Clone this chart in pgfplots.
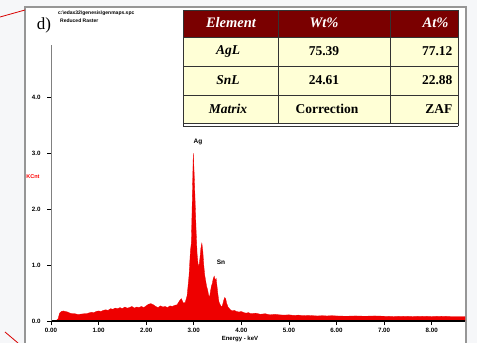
\documentclass[border=0pt]{standalone}
\usepackage{pgfplots}
\pgfplotsset{compat=1.18}
\usepackage{fontspec}
\setmainfont{Liberation Serif}
\newfontfamily\sans{Liberation Sans}
\definecolor{spec}{RGB}{238,0,0}
\definecolor{hdr}{RGB}{122,0,0}
\definecolor{cream}{RGB}{255,255,214}
\definecolor{bg}{RGB}{246,247,249}
\definecolor{frame}{RGB}{150,150,150}
\pgfplotstableread{
x y
0.10 0
0.15 0.04
0.18 0.14
0.22 0.17
0.26 0.18
0.30 0.17
0.35 0.16
0.40 0.14
0.45 0.13
0.50 0.13
0.55 0.12
0.60 0.12
0.65 0.125
0.70 0.13
0.75 0.13
0.80 0.145
0.85 0.155
0.90 0.15
0.95 0.17
1.00 0.18
1.05 0.17
1.10 0.19
1.15 0.20
1.20 0.19
1.25 0.22
1.30 0.21
1.35 0.23
1.40 0.22
1.45 0.24
1.50 0.22
1.55 0.25
1.60 0.23
1.65 0.24
1.70 0.26
1.75 0.23
1.80 0.25
1.85 0.24
1.90 0.26
1.95 0.24
2.00 0.27
2.05 0.30
2.10 0.31
2.15 0.29
2.20 0.26
2.25 0.24
2.30 0.27
2.35 0.25
2.40 0.26
2.45 0.24
2.50 0.27
2.55 0.26
2.60 0.28
2.65 0.29
2.70 0.36
2.74 0.40
2.78 0.32
2.82 0.33
2.86 0.45
2.90 0.80
2.93 1.25
2.95 1.40
2.97 2.20
2.99 3.00
3.01 2.60
3.03 2.10
3.05 1.60
3.07 1.20
3.09 1.02
3.11 0.98
3.13 1.12
3.15 1.30
3.17 1.39
3.19 1.25
3.21 1.00
3.23 0.82
3.25 0.72
3.27 0.62
3.29 0.56
3.31 0.47
3.33 0.42
3.35 0.52
3.37 0.62
3.39 0.67
3.41 0.76
3.43 0.80
3.45 0.73
3.47 0.76
3.49 0.61
3.51 0.46
3.53 0.34
3.55 0.30
3.57 0.27
3.59 0.25
3.61 0.30
3.63 0.37
3.65 0.42
3.67 0.40
3.69 0.32
3.72 0.25
3.76 0.21
3.80 0.18
3.85 0.19
3.90 0.17
3.95 0.16
4.00 0.17
4.05 0.15
4.10 0.14
4.15 0.15
4.20 0.13
4.30 0.14
4.40 0.12
4.50 0.13
4.60 0.11
4.70 0.12
4.80 0.11
4.90 0.105
5.00 0.11
5.10 0.10
5.20 0.105
5.30 0.095
5.40 0.10
5.50 0.095
5.60 0.09
5.70 0.095
5.80 0.09
5.90 0.095
6.00 0.09
6.20 0.085
6.40 0.09
6.60 0.085
6.80 0.09
7.00 0.085
7.20 0.08
7.40 0.085
7.60 0.08
7.80 0.085
8.00 0.08
8.20 0.085
8.40 0.08
8.70 0.08
}\spectrum
\begin{document}
\begin{tikzpicture}[x=1pt,y=1pt]
\useasboundingbox (0,0) rectangle (477,343);
\fill[bg] (0,0) rectangle (477,343);
\fill[white] (25,-2) rectangle (466,336);
\draw[frame, line width=1.2pt] (25,-2) -- (25,336) -- (466,336) -- (466,-2);
\draw[red!85!black, line width=0.8pt] (0,326) -- (25,333);
\draw[red!85!black, line width=0.8pt] (5,11) -- (18,0);
\begin{axis}[
  at={(51pt,22pt)}, anchor=south west,
  scale only axis, width=414pt, height=276pt,
  xmin=0, xmax=8.7, ymin=0, ymax=4.93,
  axis x line=bottom, axis y line=left,
  axis on top,
  x axis line style={-, black, line width=1.6pt},
  y axis line style={-, gray, line width=0.8pt},
  xtick={0,1,...,8}, ytick={0,1,2,3,4},
  tick align=outside, major tick length=4pt,
  tick style={black, line width=0.6pt},
  /pgf/number format/assume math mode=true,
  ticklabel style={font=\sans\bfseries\fontsize{6.2}{7}\selectfont},
  xticklabel style={/pgf/number format/.cd, fixed, fixed zerofill, precision=2},
  yticklabel style={xshift=-3pt, /pgf/number format/.cd, fixed, fixed zerofill, precision=1},
  clip=false,
]
\addplot[draw=spec, fill=spec, line width=0.3pt] table[x=x,y=y] {\spectrum} \closedcycle;
\end{axis}
% labels
\node[font=\sans\bfseries\fontsize{6.5}{7}\selectfont] at (198,201) {Ag};
\node[font=\sans\bfseries\fontsize{6.5}{7}\selectfont] at (221,81) {Sn};
\node[font=\sans\bfseries\fontsize{5.5}{6}\selectfont, text=red] at (33,166) {KCnt};
\node[font=\sans\bfseries\fontsize{6}{7}\selectfont] at (240,4) {Energy - keV};
\node[font=\fontsize{17}{18}\selectfont] at (44,318) {d)};
\node[font=\sans\bfseries\fontsize{5}{6}\selectfont, anchor=west, inner sep=0] at (58,330) {c:\textbackslash edax32\textbackslash genesis\textbackslash genmaps.spc};
\node[font=\sans\bfseries\fontsize{5}{6}\selectfont, anchor=west, inner sep=0] at (60,322) {Reduced Raster};
% table
\fill[hdr] (183,306) rectangle (458,333);
\fill[cream] (183,220) rectangle (458,306);
\draw[black!80, line width=0.6pt] (183,220) rectangle (458,333);
\draw[black!80, line width=0.6pt] (183,306) -- (458,306) (183,277) -- (458,277) (183,248) -- (458,248);
\draw[black!80, line width=0.6pt] (278,220) -- (278,333) (390,220) -- (390,333);
\draw[black!80, line width=0.9pt] (183,217) -- (458,217);
\draw[black!80, line width=0.6pt] (458,217) -- (458,333) (183,217) -- (183,220);
\begin{scope}[every node/.style={font=\fontsize{13.5}{14}\selectfont\bfseries}]
\node[text=white, font=\fontsize{14.5}{15}\selectfont\bfseries\itshape] at (231,320) {Element};
\node[text=white, font=\fontsize{14.5}{15}\selectfont\bfseries\itshape] at (324,320) {Wt\%};
\node[text=white, font=\fontsize{14.5}{15}\selectfont\bfseries\itshape, anchor=east] at (452,320) {At\%};
\node[font=\fontsize{13.5}{14}\selectfont\bfseries\itshape] at (228,292) {AgL};
\node at (324,292) {75.39};
\node[anchor=east] at (456,292) {77.12};
\node[font=\fontsize{13.5}{14}\selectfont\bfseries\itshape] at (228,263) {SnL};
\node at (324,263) {24.61};
\node[anchor=east] at (456,263) {22.88};
\node[font=\fontsize{13.5}{14}\selectfont\bfseries\itshape] at (228,234) {Matrix};
\node at (327,234) {Correction};
\node[anchor=east] at (456,234) {ZAF};
\end{scope}
\end{tikzpicture}
\end{document}
